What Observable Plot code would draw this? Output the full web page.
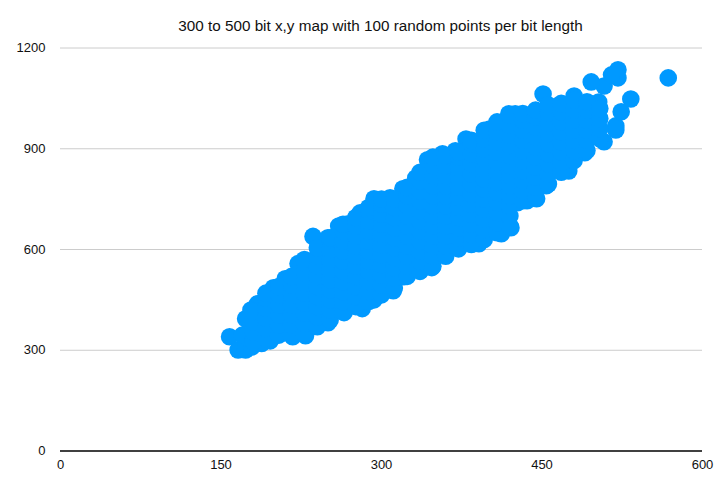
<!DOCTYPE html>
<html>
<head>
<meta charset="utf-8">
<style>html,body{margin:0;padding:0;background:#fff}</style>
<script src="https://cdn.jsdelivr.net/npm/d3@7"></script>
<script src="https://cdn.jsdelivr.net/npm/@observablehq/plot@0.6"></script>
</head>
<body>
<div id="chart"></div>
<script>
const title = "300 to 500 bit x,y map with 100 random points per bit length";
const xTicks = [0, 150, 300, 450, 600];
const yTicks = [0, 300, 600, 900, 1200];

// Points on the outline of the cloud
const edgeX = [158,166,173,179,196,217,229,250,265,282,293,311,321,336,347,372,391,412,421,427,436,445,454,475,490,508,519,519,524,533,521,521,508,496,503,493,480,465,451,442,425,419,401,379,369,357,343,332,320,308,293,280,268,260,250,236,222,210,199,184,178,173,568,501,170,180,515,188];
const edgeY = [340,301,301,310,328,340,343,382,412,424,450,477,519,537,546,602,617,647,665,739,745,751,790,834,888,921,956,968,1010,1048,1135,1111,1087,1099,1039,1036,1057,1027,1063,1006,1004,1004,959,929,894,885,867,813,781,754,751,709,676,670,635,639,558,513,486,438,420,394,1111,983,345,345,1120,320];

// Points inside the dense part of the cloud, estimated: [x, y values]
const inner = [
  [180,[325,355,385,415]],
  [192,[335,365,395,425,455,470]],
  [204,[345,375,405,435,465,490]],
  [216,[345,375,405,435,465,495,520]],
  [228,[350,380,410,440,470,500,530,560,570]],
  [240,[370,400,430,460,490,520,550,580,605]],
  [252,[390,420,450,480,510,540,570,600,630,635]],
  [264,[415,445,475,505,535,565,595,625,655,675]],
  [276,[430,460,490,520,550,580,610,640,670,695]],
  [288,[445,475,505,535,565,595,625,655,685,715,725]],
  [300,[465,495,525,555,585,615,645,675,705,735,750]],
  [312,[485,515,545,575,605,635,665,695,725,750]],
  [324,[520,550,580,610,640,670,700,730,760,785]],
  [336,[535,565,595,625,655,685,715,745,775,805,830]],
  [348,[550,580,610,640,670,700,730,760,790,820,850,875]],
  [360,[580,610,640,670,700,730,760,790,820,850,880]],
  [372,[605,635,665,695,725,755,785,815,845,875,890]],
  [384,[615,645,675,705,735,765,795,825,855,885,915,925]],
  [396,[630,660,690,720,750,780,810,840,870,900,930,955]],
  [408,[650,680,710,740,770,800,830,860,890,920,950,980]],
  [420,[670,700,730,760,790,820,850,880,910,940,970,1000]],
  [432,[745,775,805,835,865,895,925,955,985,1005]],
  [444,[755,785,815,845,875,905,935,965,995,1015]],
  [456,[795,825,855,885,915,945,975,1005,1030]],
  [468,[830,860,890,920,950,980,1010,1035]],
  [480,[865,895,925,955,985,1015,1045]],
  [492,[895,925,955,985,1015,1040]],
  [504,[930,960,990,1020]]
];

const points = edgeX.map((x, i) => ({x, y: edgeY[i]}))
  .concat(inner.flatMap(([x, ys]) => ys.map(y => ({x, y}))));

const chart = Plot.plot({
  width: 722,
  height: 481,
  marginLeft: 60,
  marginRight: 20,
  marginTop: 47.5,
  marginBottom: 30.5,
  style: {fontFamily: "'Liberation Sans', Arial, sans-serif", fontSize: "13px", color: "#111", background: "#fff"},
  x: {domain: [0, 600]},
  y: {domain: [0, 1200]},
  marks: [
    Plot.ruleY(yTicks.slice(1), {stroke: "#cccccc", strokeWidth: 1}),
    Plot.dot(points, {x: "x", y: "y", r: 8.8, fill: "#0099ff", stroke: "none"}),
    Plot.ruleY([0], {stroke: "#000", strokeWidth: 1.5}),
    Plot.axisX({ticks: xTicks, tickSize: 0, tickPadding: 9, label: null, tickFormat: d => String(d), fontSize: 13}),
    Plot.axisY({ticks: yTicks, tickSize: 0, tickPadding: 15, label: null, tickFormat: d => String(d), fontSize: 13}),
    Plot.text([title], {frameAnchor: "top", dy: -22, dx: -1, fontSize: 15.25, fill: "#111", text: d => d, lineAnchor: "middle"})
  ]
});
document.getElementById("chart").appendChild(chart);
</script>
</body>
</html>
